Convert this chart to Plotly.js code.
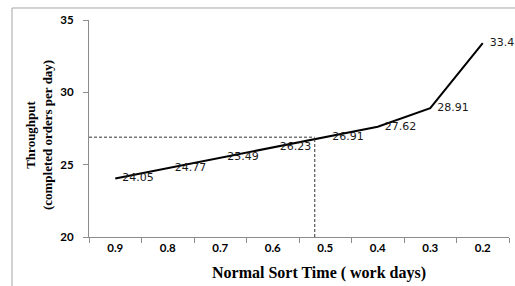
<!DOCTYPE html>
<html>
<head>
<meta charset="utf-8">
<script src="https://cdn.plot.ly/plotly-3.0.1.min.js"></script>
<style>
html,body{margin:0;padding:0;background:#fff;}
#chart{width:515px;height:286px;}
</style>
</head>
<body>
<div id="chart"></div>
<script>
// Data
var sortTimes = ["0.9", "0.8", "0.7", "0.6", "0.5", "0.4", "0.3", "0.2"];
var throughput = [24.05, 24.77, 25.49, 26.23, 26.91, 27.62, 28.91, 33.4];
var yTicks = [20, 25, 30, 35];
var refSortTime = 0.52;
var refThroughput = 26.9;

var refIndex = (parseFloat(sortTimes[0]) - refSortTime) / (parseFloat(sortTimes[0]) - parseFloat(sortTimes[1]));

var trace = {
  x: sortTimes,
  y: throughput,
  type: 'scatter',
  mode: 'lines+text',
  line: {color: '#000000', width: 2},
  text: throughput.map(function(v){ return String(v); }),
  texttemplate: '  %{text}',
  textposition: 'middle right',
  textfont: {family: 'DejaVu Sans', size: 11, color: '#1a1a1a'},
  cliponaxis: false,
  hoverinfo: 'skip'
};

var layout = {
  width: 515,
  height: 286,
  margin: {l: 89, r: 6, t: 20, b: 49},
  paper_bgcolor: '#ffffff',
  plot_bgcolor: '#ffffff',
  showlegend: false,
  xaxis: {
    type: 'category',
    range: [-0.5, 7.5],
    tickson: 'boundaries',
    ticks: 'outside',
    ticklen: 5,
    tickcolor: '#8c8c8c',
    showline: true,
    linecolor: '#8c8c8c',
    linewidth: 1,
    showgrid: false,
    zeroline: false,
    tickfont: {family: 'Lato', size: 11.5, color: '#000000', weight: 'bold'},
    fixedrange: true
  },
  yaxis: {
    range: [20, 35],
    tickvals: yTicks,
    ticks: 'outside',
    ticklen: 5,
    tickcolor: '#8c8c8c',
    showline: true,
    linecolor: '#8c8c8c',
    linewidth: 1,
    showgrid: false,
    zeroline: false,
    ticklabelstandoff: 7,
    tickfont: {family: 'Lato', size: 11.5, color: '#000000', weight: 'bold'},
    fixedrange: true
  },
  shapes: [
    {type: 'rect', xref: 'paper', yref: 'paper', x0: -0.1833, x1: 1.2, y0: -0.4, y1: 1.0553,
     line: {color: '#a6a6a6', width: 1}, fillcolor: 'rgba(0,0,0,0)', layer: 'below'},
    {type: 'line', xref: 'x', yref: 'y', x0: -0.5, x1: refIndex, y0: refThroughput, y1: refThroughput,
     line: {color: '#333333', width: 1, dash: '3px,2px'}},
    {type: 'line', xref: 'x', yref: 'y', x0: refIndex, x1: refIndex, y0: 20, y1: refThroughput,
     line: {color: '#333333', width: 1, dash: '3px,2px'}}
  ],
  annotations: [
    {text: 'Throughput<br>(completed orders per day)', xref: 'paper', yref: 'paper',
     x: -0.120, y: 0.4677, xanchor: 'center', yanchor: 'middle', textangle: -90, showarrow: false,
     font: {family: 'Liberation Serif', size: 13, color: '#000000', weight: 'bold'}},
    {text: 'Normal Sort Time ( work days)', xref: 'paper', yref: 'paper',
     x: 0.5476, y: -0.1659, xanchor: 'center', yanchor: 'middle', showarrow: false,
     font: {family: 'Liberation Serif', size: 16, color: '#000000', weight: 'bold'}}
  ]
};

Plotly.newPlot('chart', [trace], layout, {displayModeBar: false, staticPlot: true});
</script>
</body>
</html>
